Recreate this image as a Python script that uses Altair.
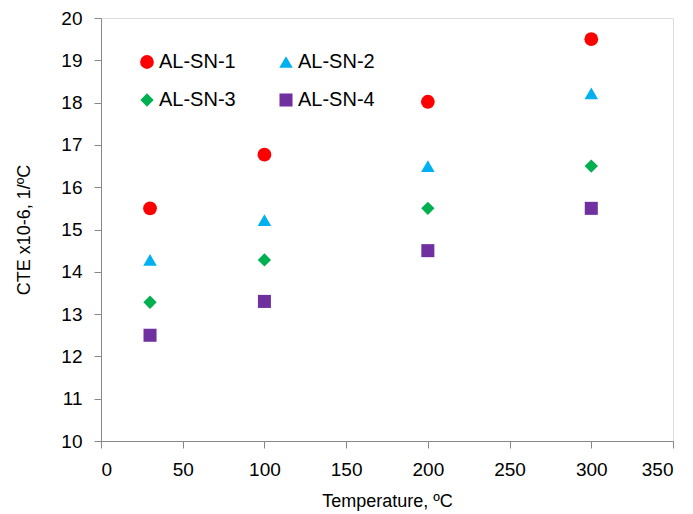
import altair as alt
import pandas as pd

temps = [30, 100, 200, 300]
series = ["AL-SN-1", "AL-SN-2", "AL-SN-3", "AL-SN-4"]
al_sn_1 = [15.5, 16.77, 18.02, 19.5]
al_sn_2 = [14.28, 15.22, 16.5, 18.22]
al_sn_3 = [13.28, 14.28, 15.5, 16.5]
al_sn_4 = [12.5, 13.3, 14.5, 15.5]
colors = ["#FF0000", "#00B0F0", "#00B050", "#7030A0"]
shapes = ["circle", "triangle-up", "diamond", "square"]
sizes = [190, 170, 130, 170]

rows = []
for name, vals in zip(series, [al_sn_1, al_sn_2, al_sn_3, al_sn_4]):
    for t, v in zip(temps, vals):
        rows.append({"Temperature": t, "CTE": v, "Series": name})
df = pd.DataFrame(rows)

font = "Liberation Sans"

chart = alt.Chart(df).mark_point(filled=True, opacity=1).encode(
    x=alt.X("Temperature:Q",
            scale=alt.Scale(domain=[0, 350], nice=False, zero=False),
            axis=alt.Axis(values=list(range(0, 351, 50)), title="Temperature, ºC",
                          grid=False, tickSize=7, labelPadding=12, titlePadding=13,
                          labelFontSize=19, titleFontSize=18, titleFontWeight="normal")),
    y=alt.Y("CTE:Q",
            scale=alt.Scale(domain=[10, 20], nice=False, zero=False),
            axis=alt.Axis(values=list(range(10, 21)), title="CTE x10-6, 1/ºC",
                          grid=False, tickSize=7, labelPadding=12, titlePadding=27,
                          labelFontSize=19, titleFontSize=18, titleFontWeight="normal")),
    color=alt.Color("Series:N", scale=alt.Scale(domain=series, range=colors),
                    legend=alt.Legend(title=None, orient="none", legendX=36, legendY=34,
                                      columns=2, direction="horizontal",
                                      columnPadding=40, rowPadding=18,
                                      labelFontSize=20, labelFont=font, labelOffset=2,
                                      symbolSize=170, padding=0, labelLimit=200)),
    shape=alt.Shape("Series:N", scale=alt.Scale(domain=series, range=shapes)),
    size=alt.Size("Series:N", scale=alt.Scale(domain=series, range=sizes)),
).properties(
    width=572, height=423,
    autosize=alt.AutoSizeParams(type="none"),
    padding={"left": 93, "top": 10, "right": 12, "bottom": 73},
).configure_view(
    stroke="#000000", strokeWidth=1.5
).configure_axis(
    domainColor="#888888", tickColor="#888888", domainWidth=1.5, tickWidth=1.5,
    labelFont=font, titleFont=font, labelColor="#000000", titleColor="#000000"
).configure(background="white")

chart.save("out.html", embed_options={"renderer": "svg", "actions": False})
